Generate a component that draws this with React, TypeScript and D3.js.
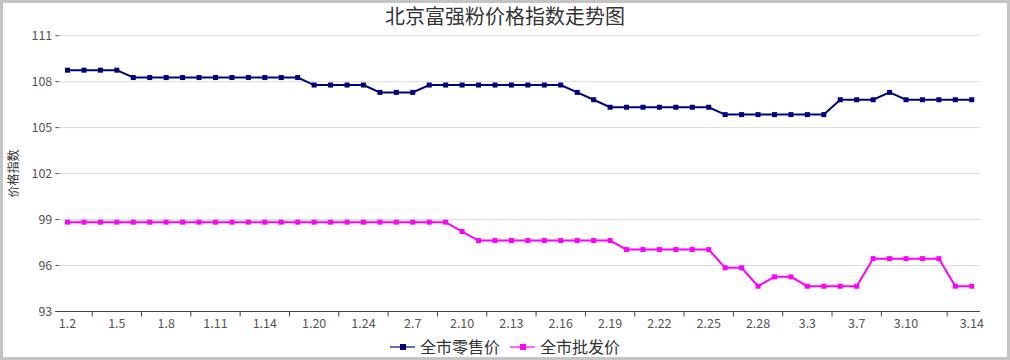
import React from 'react';
import { scaleBand, scaleLinear, line } from 'd3';

const dates = [
  '1.2', '1.3', '1.4', '1.5', '1.6', '1.7', '1.8', '1.9', '1.10', '1.11',
  '1.12', '1.13', '1.14', '1.15', '1.17', '1.20', '1.21', '1.22', '1.24', '2.5',
  '2.6', '2.7', '2.8', '2.9', '2.10', '2.11', '2.12', '2.13', '2.14', '2.15',
  '2.16', '2.17', '2.18', '2.19', '2.20', '2.21', '2.22', '2.23', '2.24', '2.25',
  '2.26', '2.27', '2.28', '2.29', '3.2', '3.3', '3.4', '3.6', '3.7', '3.8',
  '3.9', '3.10', '3.11', '3.12', '3.13', '3.14',
];

const labeledDates = [
  '1.2', '1.5', '1.8', '1.11', '1.14', '1.20', '1.24', '2.7', '2.10', '2.13',
  '2.16', '2.19', '2.22', '2.25', '2.28', '3.3', '3.7', '3.10', '3.14',
];

const retail = [
  108.75, 108.75, 108.75, 108.75, 108.27, 108.27, 108.27, 108.27, 108.27, 108.27,
  108.27, 108.27, 108.27, 108.27, 108.27, 107.78, 107.78, 107.78, 107.78, 107.3,
  107.3, 107.3, 107.78, 107.78, 107.78, 107.78, 107.78, 107.78, 107.78, 107.78,
  107.78, 107.3, 106.82, 106.33, 106.33, 106.33, 106.33, 106.33, 106.33, 106.33,
  105.85, 105.85, 105.85, 105.85, 105.85, 105.85, 105.85, 106.82, 106.82, 106.82,
  107.3, 106.82, 106.82, 106.82, 106.82, 106.82,
];

const wholesale = [
  98.83, 98.83, 98.83, 98.83, 98.83, 98.83, 98.83, 98.83, 98.83, 98.83,
  98.83, 98.83, 98.83, 98.83, 98.83, 98.83, 98.83, 98.83, 98.83, 98.83,
  98.83, 98.83, 98.83, 98.83, 98.22, 97.63, 97.63, 97.63, 97.63, 97.63,
  97.63, 97.63, 97.63, 97.63, 97.04, 97.04, 97.04, 97.04, 97.04, 97.04,
  95.85, 95.85, 94.65, 95.26, 95.26, 94.65, 94.65, 94.65, 94.65, 96.45,
  96.45, 96.45, 96.45, 96.45, 94.65, 94.65,
];

const yTicks = [93, 96, 99, 102, 105, 108, 111];

const series = [
  { name: '全市零售价', values: retail, color: '#000080', legendLine: '#6b6bb8' },
  { name: '全市批发价', values: wholesale, color: '#ff00ff', legendLine: '#ff66ff' },
];

const W = 1010;
const H = 360;
const margin = { left: 59.3, right: 30, top: 35.7, bottom: 48.5 };
const font = '"Noto Sans CJK SC", "Noto Sans", sans-serif';

const App: React.FC = () => {
  const x = scaleBand<string>()
    .domain(dates)
    .range([margin.left, W - margin.right]);
  const y = scaleLinear()
    .domain([93, 111])
    .range([H - margin.bottom, margin.top]);

  const cx = (d: string) => (x(d) as number) + x.bandwidth() / 2;
  const path = line<number>()
    .x((_, i) => cx(dates[i]))
    .y(v => y(v));

  const labelIdx = labeledDates.map(d => dates.indexOf(d));
  // tick marks sit on the category boundaries before each labelled group
  const tickPos = labelIdx.slice(1).map(i => (x(dates[i]) as number) - x.bandwidth());
  const baseY = y(93);

  return (
    <svg width={W} height={H} style={{ position: 'absolute', left: 0, top: 0 }} fontFamily={font}>
      <rect x={0} y={0} width={W} height={H} fill="#fff" />
      <rect x={1.5} y={1.5} width={W - 3} height={H - 3} fill="none" stroke="#c4c4c4" strokeWidth={3} />
      <text x={W / 2} y={24} textAnchor="middle" fontSize={20} fill="#333">北京富强粉价格指数走势图</text>

      {yTicks.map(t => (
        <g key={t}>
          {t !== 93 && (
            <line x1={margin.left} x2={W - margin.right} y1={y(t)} y2={y(t)} stroke="#dcdcdc" strokeWidth={1} />
          )}
          <line x1={margin.left - 4} x2={margin.left} y1={y(t)} y2={y(t)} stroke="#555" strokeWidth={1} />
          <text x={margin.left - 7} y={y(t)} dy="0.35em" textAnchor="end" fontSize={12.5} fill="#555">{t}</text>
        </g>
      ))}
      <text transform={`translate(18, ${(margin.top + baseY) / 2}) rotate(-90)`} textAnchor="middle" fontSize={12} fill="#333">价格指数</text>

      <line x1={margin.left - 4} x2={W - margin.right} y1={baseY} y2={baseY} stroke="#444" strokeWidth={1.2} />
      {tickPos.map((p, i) => (
        <line key={i} x1={p} x2={p} y1={baseY} y2={baseY + 5} stroke="#444" strokeWidth={1} />
      ))}
      {labelIdx.map((i, k) => (
        <text key={k} x={cx(dates[i])} y={baseY + 16} textAnchor="middle" fontSize={12.5} fill="#555">{labeledDates[k]}</text>
      ))}

      {series.map(s => (
        <g key={s.name}>
          <path d={path(s.values) as string} fill="none" stroke={s.color} strokeWidth={2} />
          {s.values.map((v, i) => (
            <rect key={i} x={cx(dates[i]) - 2.5} y={y(v) - 2.5} width={5} height={5} fill={s.color} />
          ))}
        </g>
      ))}

      {series.map((s, k) => {
        const lx = 390 + k * 120;
        const ly = 347;
        return (
          <g key={s.name}>
            <line x1={lx} x2={lx + 25} y1={ly} y2={ly} stroke={s.legendLine} strokeWidth={2} />
            <rect x={lx + 10} y={ly - 3} width={6} height={6} fill={s.color} />
            <text x={lx + 30} y={ly} dy="0.35em" fontSize={16} fill="#333">{s.name}</text>
          </g>
        );
      })}
    </svg>
  );
};

export default App;
